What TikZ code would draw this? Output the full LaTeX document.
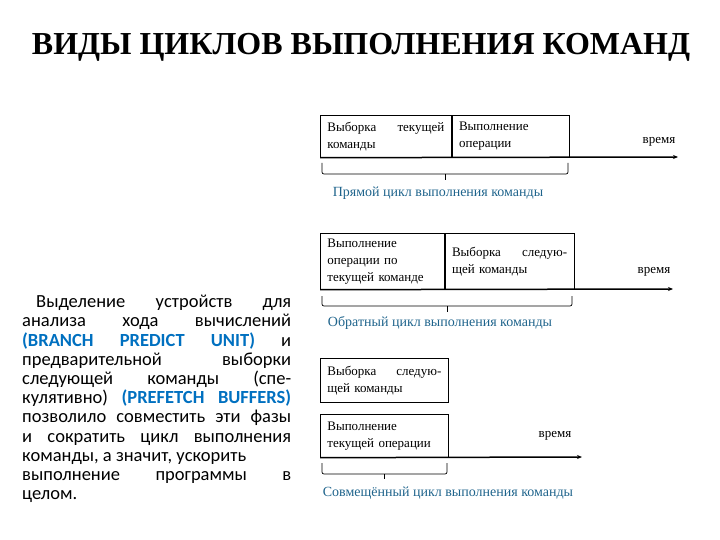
\documentclass[tikz,border=0pt]{standalone}
\usepackage{fontspec}
\setmainfont{Liberation Serif}
\newfontfamily\calib{Carlito}
\usetikzlibrary{arrows.meta, positioning, calc}
\definecolor{labelblue}{RGB}{31,100,140}
\definecolor{unitblue}{RGB}{0,112,192}
\newcommand{\wordgap}{\hspace{0pt plus 1filll}}

\begin{document}
\begin{tikzpicture}[
    x=1pt, y=-1pt,
    stage/.style={rectangle, draw, line width=0.7pt, inner xsep=7pt,
                  inner ysep=2pt, align=left, anchor=north west,
                  font=\fontsize{13}{17}\selectfont},
    timeline/.style={-{Stealth[length=5pt, width=4pt]}, line width=1.5pt},
    bracket/.style={line width=0.7pt, rounded corners=2pt},
    cyclelabel/.style={font=\fontsize{14}{16}\selectfont, text=labelblue},
    timelabel/.style={font=\fontsize{13}{15}\selectfont}
]
\useasboundingbox (0,0) rectangle (720,540);

%% ── Title ───────────────────────────────────────────────────────────────────
\node[font=\fontsize{32}{36}\bfseries\selectfont] (title) at (361,47)
      {ВИДЫ ЦИКЛОВ ВЫПОЛНЕНИЯ КОМАНД};

%% ── Direct cycle ────────────────────────────────────────────────────────────
\node[stage, minimum height=42pt, text width=117pt] (fetch1) at (320,115)
      {Выборка\wordgap{} текущей\\команды};
\node[stage, minimum height=42pt, text width=103pt, right=0pt of fetch1] (exec1)
      {Выполнение\\операции};
\coordinate (end1) at (678,157);
\draw[timeline] (fetch1.south west) -- (end1);
\node[timelabel] (time1) at (659,142) {время};

\coordinate (br1l) at (322,163);
\coordinate (br1r) at (568,163);
\draw[bracket] (br1l) -- ++(0,11) -| (br1r);
\draw[bracket] ($(br1l)!0.5!(br1r)+(0,11)$) -- ++(0,6);
\node[cyclelabel] (cyc1) at (438,193) {Прямой цикл выполнения команды};

%% ── Reverse cycle ───────────────────────────────────────────────────────────
\node[stage, minimum height=56pt, text width=110pt] (exec2) at (320,233)
      {Выполнение\\операции по\\текущей команде};
\node[stage, minimum height=56pt, text width=115pt, right=0pt of exec2] (fetch2)
      {Выборка\wordgap{} следую-\\щей команды};
\coordinate (end2) at (673,289);
\draw[timeline] (exec2.south west) -- (end2);
\node[timelabel] (time2) at (654,272) {время};

\coordinate (br2l) at (322,296);
\coordinate (br2r) at (572,296);
\draw[bracket] (br2l) -- ++(0,10) -| (br2r);
\draw[bracket] ($(br2l)!0.5!(br2r)+(0,10)$) -- ++(0,6);
\node[cyclelabel] (cyc2) at (440,323) {Обратный цикл выполнения команды};

%% ── Combined cycle ──────────────────────────────────────────────────────────
\node[stage, minimum height=44pt, text width=114pt] (fetch3) at (320,358)
      {Выборка\wordgap{} следую-\\щей команды};
\node[stage, minimum height=43pt, text width=114pt] (exec3) at (320,414)
      {Выполнение\\текущей операции};
\coordinate (end3) at (582,457);
\draw[timeline] (exec3.south west) -- (end3);
\node[timelabel] (time3) at (555,436) {время};

\coordinate (br3l) at (322,463);
\coordinate (br3r) at (447,463);
\draw[bracket] (br3l) -- ++(0,11) -| (br3r);
\draw[bracket] ($(br3l)!0.5!(br3r)+(0,11)$) -- ++(0,5);
\node[cyclelabel] (cyc3) at (448,493) {Совмещённый цикл выполнения команды};

%% ── Side note ───────────────────────────────────────────────────────────────
\node[anchor=north west, inner sep=0pt, text width=269pt, align=justify,
      font=\calib\fontsize{18.5}{19.2}\selectfont] (note) at (22,295)
      {\hspace*{14pt}Выделение устройств для\linebreak
       анализа хода вычислений\linebreak
       \textcolor{unitblue}{\bfseries(BRANCH PREDICT UNIT)} и\linebreak
       предварительной выборки\linebreak
       следующей команды (спе-\linebreak
       кулятивно) \textcolor{unitblue}{\bfseries(PREFETCH BUFFERS)}\linebreak
       позволило совместить эти фазы\linebreak
       и сократить цикл выполнения\linebreak
       команды, а значит, ускорить\newline
       выполнение программы в\linebreak
       целом.};

\end{tikzpicture}
\end{document}
